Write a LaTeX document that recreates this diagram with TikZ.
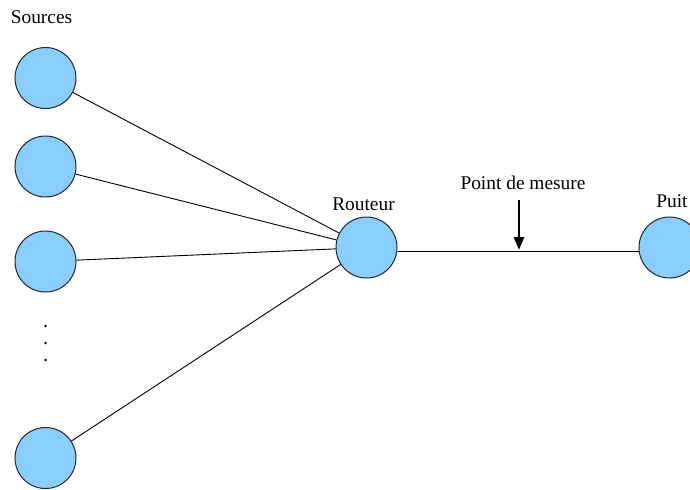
\documentclass[tikz,border=0pt]{standalone}
\usepackage{fontspec}
\setmainfont{Liberation Serif}
\usetikzlibrary{positioning,arrows.meta}

\definecolor{nodeblue}{RGB}{136,206,255}

\begin{document}
\begin{tikzpicture}[
  x=0.5pt, y=0.5pt,
  every node/.style={font=\fontsize{9.7}{11.5}\selectfont},
  hote/.style={circle, draw=black!85, line width=0.5pt, fill=nodeblue, minimum size=30.5pt, inner sep=0pt},
  lien/.style={line width=0.45pt, draw=black},
  txt/.style={inner sep=0pt},
  fleche/.style={-{Triangle[length=6.5pt, width=5pt]}, line width=1.4pt}
]
\useasboundingbox (0,0) rectangle (690,-489);
% sources
\node[hote] (src1) at (45.5,-78) {};
\node[hote] (src2) at (45.5,-166.5) {};
\node[hote] (src3) at (45.5,-261.5) {};
\node[hote] (src4) at (45.5,-458) {};
\foreach \y in {326,343,360}
  \fill (45.5,-\y) circle (1.4);
\node[txt, above=11.5pt of src1, xshift=-2pt] (srclabel) {Sources};
% routeur et puit
\node[hote] (router) at (366.5,-247.5) {};
\node[hote] (puit) at (669.5,-247.5) {};
\node[txt, above=2.8pt of router, xshift=-1.5pt] {Routeur};
\node[txt, above=4.2pt of puit, xshift=1.2pt] {Puit};
% liens
\foreach \s in {src1,src2,src3,src4}
  \draw[lien] (\s) -- (router);
\draw[lien] ([yshift=-1.8pt]router.east) -- ([yshift=-1.8pt]puit.west);
% point de mesure
\coordinate (mesure) at (519,-250);
\coordinate (mesuretop) at (519,-200);
\draw[fleche] (mesuretop) -- (mesure);
\node[txt, above=5.2pt of mesuretop, xshift=2pt] {Point de mesure};
\end{tikzpicture}
\end{document}
